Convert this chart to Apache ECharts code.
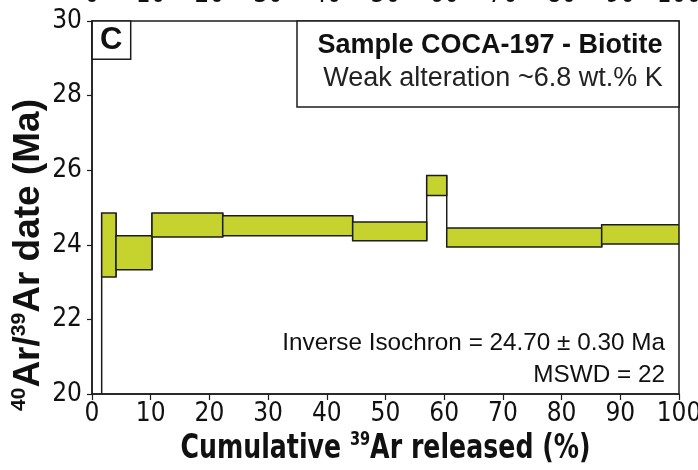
<!DOCTYPE html>
<html>
<head>
<meta charset="utf-8">
<script src="https://cdn.jsdelivr.net/npm/echarts@6/dist/echarts.min.js"></script>
<style>
  html, body { margin: 0; padding: 0; background: #fff; }
  #chart { width: 698px; height: 470px; }
</style>
</head>
<body>
<div id="chart"></div>
<script>
// Age spectrum steps: cumulative 39Ar interval (%) and date envelope (Ma)
const stepStart = [0, 1.65, 4.09, 10.22, 22.27, 44.41, 57.02, 60.43, 86.83];
const stepEnd   = [1.65, 4.09, 10.22, 22.27, 44.41, 57.02, 60.43, 86.83, 100];
const ageLow    = [16.0, 23.14, 23.33, 24.21, 24.24, 24.11, 25.32, 23.94, 24.02];
const ageHigh   = [18.0, 24.85, 24.24, 24.85, 24.78, 24.61, 25.86, 24.45, 24.54];

const xTicks = [0, 10, 20, 30, 40, 50, 60, 70, 80, 90, 100];
const yTicks = [20, 22, 24, 26, 28, 30];

const panelLetter = 'C';
const sampleTitle = 'Sample COCA-197 - Biotite';
const sampleNote = 'Weak alteration ~6.8 wt.% K';
const isochronText = 'Inverse Isochron = 24.70 ± 0.30 Ma';
const mswdText = 'MSWD = 22';

const narrow = "'Liberation Sans Narrow', 'DejaVu Sans Condensed', 'Arial Narrow', sans-serif";
const sans = "'Liberation Sans', Arial, Helvetica, sans-serif";
const FILL = '#c6d32f';
const INK = '#1c1c1c';

const stepData = stepStart.map((s, i) => [s, stepEnd[i], ageLow[i], ageHigh[i]]);
// vertical connectors between neighbouring steps
const joinData = [];
for (let i = 0; i < stepStart.length - 1; i++) {
  joinData.push([stepEnd[i],
    Math.min(ageLow[i], ageLow[i + 1]),
    Math.max(ageHigh[i], ageHigh[i + 1])]);
}

const chart = echarts.init(document.getElementById('chart'), null, { renderer: 'canvas' });

chart.setOption({
  animation: false,
  backgroundColor: '#fff',
  grid: {
    left: 92, right: 19, top: 21, bottom: 76,
    containLabel: false, outerBoundsMode: 'none',
    show: true, borderColor: INK, borderWidth: 1.5, backgroundColor: 'transparent'
  },
  xAxis: [{
    type: 'value', min: xTicks[0], max: xTicks[xTicks.length - 1], interval: 10,
    axisLine: { show: true, onZero: false, lineStyle: { color: INK, width: 1.5 } },
    axisTick: { show: true, inside: false, length: 6, lineStyle: { color: INK, width: 1.2 } },
    axisLabel: { fontFamily: narrow, fontSize: 26, color: '#111', margin: 7 },
    splitLine: { show: false }
  }, {
    // tick labels of the panel above, cut by the top edge
    type: 'value', position: 'top', min: 0, max: 100, interval: 10,
    axisLine: { show: false }, axisTick: { show: false }, splitLine: { show: false },
    axisLabel: { fontFamily: narrow, fontSize: 26, color: '#111', margin: 13 }
  }],
  yAxis: {
    type: 'value', min: yTicks[0], max: yTicks[yTicks.length - 1], interval: 2,
    axisLine: { show: true, onZero: false, lineStyle: { color: INK, width: 1.5 } },
    axisTick: { show: true, inside: false, length: 5, lineStyle: { color: INK, width: 1.2 } },
    axisLabel: { fontFamily: narrow, fontSize: 26, color: '#111', margin: 10 },
    splitLine: { show: false }
  },
  series: [{
    type: 'custom',
    clip: true,
    data: joinData,
    renderItem: function (params, api) {
      const top = api.coord([api.value(0), api.value(2)]);
      const bot = api.coord([api.value(0), api.value(1)]);
      return {
        type: 'line',
        shape: { x1: top[0], y1: top[1], x2: bot[0], y2: bot[1] },
        style: { stroke: INK, lineWidth: 1.5 }
      };
    }
  }, {
    type: 'custom',
    clip: true,
    data: stepData,
    renderItem: function (params, api) {
      const p0 = api.coord([api.value(0), api.value(3)]);
      const p1 = api.coord([api.value(1), api.value(2)]);
      return {
        type: 'rect',
        shape: { x: p0[0], y: p0[1], width: p1[0] - p0[0], height: p1[1] - p0[1] },
        style: { fill: FILL, stroke: INK, lineWidth: 1.5 }
      };
    }
  }],
  graphic: [
    // x-axis title (condensed bold)
    {
      type: 'text', x: 385.5, y: 449, scaleX: 0.85,
      style: {
        text: '{b|Cumulative }{s|39}{b|Ar released (%)}',
        align: 'center', verticalAlign: 'middle',
        rich: {
          b: { fontFamily: narrow, fontWeight: 'bold', fontSize: 33, fill: '#111', lineHeight: 36 },
          s: { fontFamily: narrow, fontWeight: 'bold', fontSize: 19, fill: '#111', lineHeight: 22, verticalAlign: 'top' }
        }
      }
    },
    // y-axis title
    {
      type: 'text', x: 29, y: 255, rotation: Math.PI / 2,
      style: {
        text: '{s|40}{b|Ar/}{s|39}{b|Ar date (Ma)}',
        align: 'center', verticalAlign: 'middle',
        rich: {
          b: { fontFamily: sans, fontWeight: 'bold', fontSize: 37, fill: '#111', lineHeight: 40 },
          s: { fontFamily: sans, fontWeight: 'bold', fontSize: 21, fill: '#111', lineHeight: 24, verticalAlign: 'top' }
        }
      }
    },
    // panel letter
    {
      type: 'rect', shape: { x: 92, y: 21, width: 38.7, height: 38.3 },
      style: { fill: '#fff', stroke: INK, lineWidth: 1.5 }
    },
    {
      type: 'text', x: 111.3, y: 40.5,
      style: { text: panelLetter, fontFamily: sans, fontWeight: 'bold', fontSize: 31, fill: '#111', align: 'center', verticalAlign: 'middle' }
    },
    // sample box
    {
      type: 'rect', shape: { x: 297, y: 21, width: 382, height: 86 },
      style: { fill: '#fff', stroke: INK, lineWidth: 1.5 }
    },
    {
      type: 'text', x: 490, y: 46,
      style: { text: sampleTitle, fontFamily: sans, fontWeight: 'bold', fontSize: 27, fill: '#111', align: 'center', verticalAlign: 'middle' }
    },
    {
      type: 'text', x: 493, y: 78.5,
      style: { text: sampleNote, fontFamily: sans, fontSize: 27, fill: '#222', align: 'center', verticalAlign: 'middle' }
    },
    // isochron result
    {
      type: 'text', x: 665, y: 343,
      style: { text: isochronText, fontFamily: sans, fontSize: 24.3, fill: '#111', align: 'right', verticalAlign: 'middle' }
    },
    {
      type: 'text', x: 665, y: 375,
      style: { text: mswdText, fontFamily: sans, fontSize: 24.3, fill: '#111', align: 'right', verticalAlign: 'middle' }
    }
  ]
});
</script>
</body>
</html>
